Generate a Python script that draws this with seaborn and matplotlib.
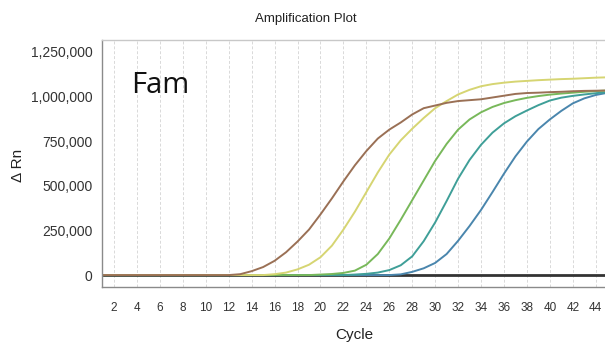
import numpy as np
import pandas as pd
import matplotlib
matplotlib.use("Agg")
import matplotlib.pyplot as plt
import seaborn as sns

# amplification curves, delta Rn per cycle (cycles 1..45)
cycles = list(range(1, 46))

brown = [0] * 12 + [5e3, 22e3, 45e3, 80e3, 128e3, 188e3, 255e3, 340e3, 430e3, 525e3,
                    615e3, 695e3, 765e3, 815e3, 855e3, 900e3, 935e3, 950e3, 965e3, 975e3,
                    980e3, 985e3, 995e3, 1005e3, 1015e3, 1020e3, 1022e3, 1025e3, 1027e3,
                    1030e3, 1032e3, 1033e3, 1034e3]
yellow = [0] * 15 + [5e3, 14e3, 32e3, 58e3, 100e3, 165e3, 255e3, 355e3, 465e3, 575e3,
                     675e3, 755e3, 820e3, 880e3, 935e3, 975e3, 1012e3, 1038e3, 1058e3,
                     1070e3, 1078e3, 1084e3, 1088e3, 1092e3, 1095e3, 1098e3, 1100e3,
                     1103e3, 1106e3, 1108e3]
green = [0] * 19 + [3e3, 6e3, 12e3, 25e3, 58e3, 118e3, 205e3, 310e3, 420e3, 530e3, 640e3,
                    735e3, 815e3, 872e3, 912e3, 942e3, 964e3, 980e3, 993e3, 1003e3,
                    1011e3, 1017e3, 1022e3, 1027e3, 1031e3, 1034e3]
teal = [0] * 22 + [3e3, 7e3, 14e3, 28e3, 55e3, 105e3, 190e3, 295e3, 415e3, 540e3, 645e3,
                   730e3, 798e3, 850e3, 890e3, 922e3, 952e3, 978e3, 994e3, 1004e3,
                   1012e3, 1019e3, 1025e3]
blue = [0] * 26 + [4e3, 18e3, 38e3, 68e3, 118e3, 192e3, 275e3, 365e3, 465e3, 568e3,
                   665e3, 748e3, 818e3, 872e3, 920e3, 962e3, 990e3, 1009e3, 1021e3]
ntc = [0] * 45

wells = ["NTC", "S5", "S4", "S3", "S2", "S1"]
series = [ntc, blue, teal, green, yellow, brown]
colors = ["#333333", "#4a86ad", "#3f9f98", "#78b85a", "#d6d572", "#9a7055"]

yticks = [0, 250000, 500000, 750000, 1000000, 1250000]
xticks = list(range(2, 45, 2))

df = pd.concat([pd.DataFrame({"Cycle": cycles, "dRn": s, "Well": w})
                for w, s in zip(wells, series)], ignore_index=True)

sns.set_style("white")
plt.rcParams["font.family"] = ["Liberation Sans", "DejaVu Sans"]

fig = plt.figure(figsize=(6.05, 3.45), dpi=100)
ax = fig.add_axes([0.1686, 0.168, 0.835, 0.716])

sns.lineplot(data=df, x="Cycle", y="dRn", hue="Well", hue_order=wells,
             palette=dict(zip(wells, colors)), linewidth=1.4, legend=False, ax=ax)
# thicker NTC baseline
ax.lines[0].set_linewidth(2.0)

ax.set_xlim(0.95, 45)
ax.set_ylim(-67000, 1317000)
ax.set_xticks(xticks)
ax.set_yticks(yticks)
ax.set_yticklabels([f"{v:,}" for v in yticks], fontsize=10, color="#333333")
ax.set_xticklabels([str(t) for t in xticks], fontsize=8.5, color="#333333")
ax.tick_params(axis="both", direction="out", length=4, width=0.8, color="#777777", pad=3)
ax.tick_params(axis="x", pad=7)
ax.xaxis.grid(True, color="#d9d9d9", linestyle=(0, (3, 2)), linewidth=0.7)
ax.yaxis.grid(False)

for side in ["left", "bottom", "top"]:
    ax.spines[side].set_color("#8a8a8a")
    ax.spines[side].set_linewidth(1.0)
ax.spines["top"].set_color("#c8c8c8")
ax.spines["right"].set_visible(False)

ax.set_xlabel("Cycle", fontsize=11, color="#222222", labelpad=10)
ax.set_ylabel("")
fig.text(0.03, 0.52, "\u0394 Rn", rotation=90, fontsize=11, color="#222222",
         ha="center", va="center")
fig.text(0.505, 0.945, "Amplification Plot", fontsize=9.5, color="#222222",
         ha="center", va="center")
fig.text(131 / 605, 1 - 93 / 345, "Fam", fontsize=21, color="#111111",
         family=["Open Sans", "DejaVu Sans"], ha="left", va="baseline")

fig.savefig("out.png", dpi=100)
